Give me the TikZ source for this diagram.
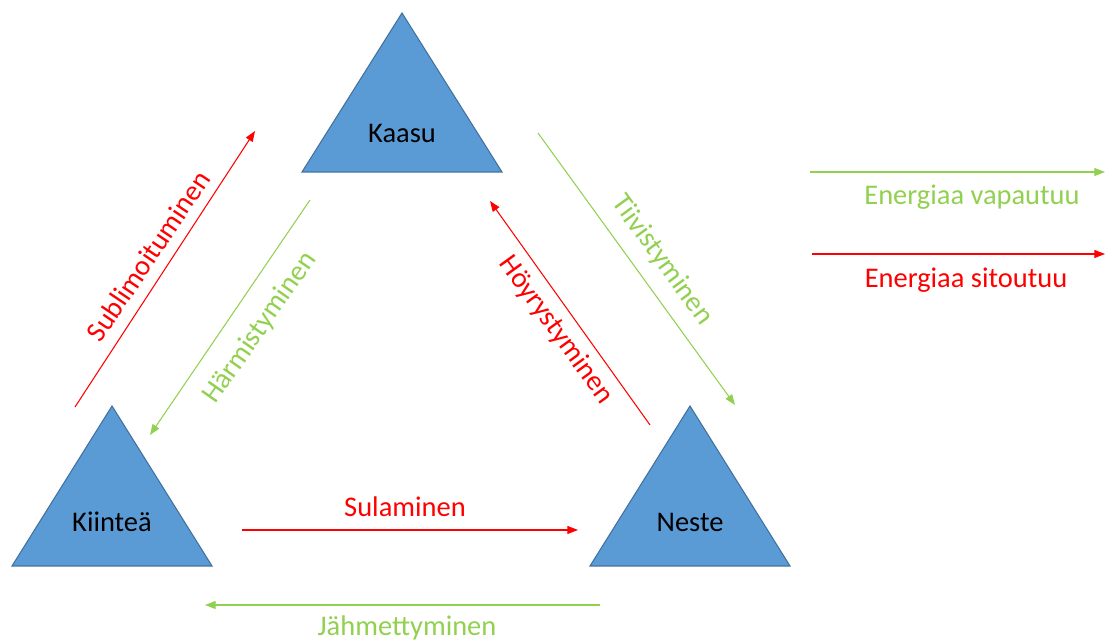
\documentclass[tikz,border=0pt]{standalone}
\usepackage{fontspec}
\setmainfont{Carlito}
\usetikzlibrary{arrows.meta}
\definecolor{phasefill}{HTML}{5B9BD5}
\definecolor{phaseline}{HTML}{41719C}
\definecolor{releasegreen}{HTML}{92D050}
\definecolor{bindred}{HTML}{FF0000}
\begin{document}
\begin{tikzpicture}[
  x=0.02cm, y=-0.02cm,
  phase/.style={fill=phasefill, draw=phaseline, line width=0.6pt},
  lbl/.style={font=\fontsize{16.2}{19}\selectfont, inner sep=0pt},
  release/.style={draw=releasegreen, line width=0.6pt, -{Triangle[length=6pt,width=4.5pt]}},
  bind/.style={draw=bindred, line width=0.6pt, -{Triangle[length=6pt,width=4.5pt]}}
]
\useasboundingbox (0,0) rectangle (1107,641);

% phases
\draw[phase] (402,13) -- (502,172) -- (302,172) -- cycle;
\draw[phase] (112,406) -- (212,566) -- (12,566) -- cycle;
\draw[phase] (690,406) -- (790,566) -- (590,566) -- cycle;
\node[lbl] (kaasu) at (402,133) {Kaasu};
\node[lbl] (kiintea) at (112,522) {Kiinteä};
\node[lbl] (neste) at (690,522) {Neste};

% arrow ends
\coordinate (sub1) at (75,407);
\coordinate (sub2) at (255,131);
\coordinate (har1) at (310,200);
\coordinate (har2) at (150,435);
\coordinate (hoy1) at (650,425);
\coordinate (hoy2) at (490,201);
\coordinate (tii1) at (538,133);
\coordinate (tii2) at (735,405);
\coordinate (sul1) at (242,530);
\coordinate (sul2) at (578,530);
\coordinate (jah1) at (600,605);
\coordinate (jah2) at (205,605);
\coordinate (vap1) at (810,172);
\coordinate (vap2) at (1105,172);
\coordinate (sit1) at (812,254);
\coordinate (sit2) at (1105,254);

\draw[bind] (sub1) -- (sub2);
\draw[release] (har1) -- (har2);
\draw[bind] (hoy1) -- (hoy2);
\draw[release] (tii1) -- (tii2);
\draw[bind] (sul1) -- (sul2);
\draw[release] (jah1) -- (jah2);
\draw[release] (vap1) -- (vap2);
\draw[bind] (sit1) -- (sit2);

% process names
\node[lbl, text=bindred, rotate=56] (sublim) at (148,256) {Sublimoituminen};
\node[lbl, text=releasegreen, rotate=55] (harmis) at (260,328) {Härmistyminen};
\node[lbl, text=bindred, rotate=-54] (hoyrys) at (556,330) {Höyrystyminen};
\node[lbl, text=releasegreen, rotate=-54] (tiivis) at (662,260) {Tiivistyminen};
\node[lbl, text=bindred] (sulam) at (405,507) {Sulaminen};
\node[lbl, text=releasegreen] (jahmet) at (407,628) {Jähmettyminen};
\node[lbl, text=releasegreen] (vapaut) at (972,197) {Energiaa vapautuu};
\node[lbl, text=bindred] (sitout) at (966,280) {Energiaa sitoutuu};
\end{tikzpicture}
\end{document}
